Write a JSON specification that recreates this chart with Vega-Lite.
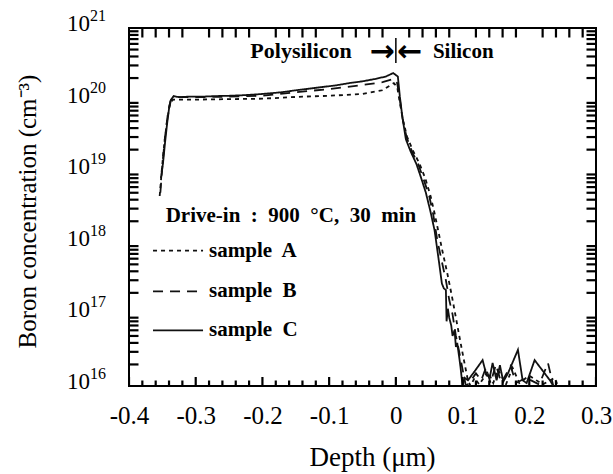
{
  "$schema": "https://vega.github.io/schema/vega-lite/v6.json",
  "autosize": {"type": "none"},
  "padding": {"left": 129, "top": 28, "right": 17, "bottom": 88},
  "width": 467,
  "height": 358,
  "background": "white",
  "config": {"view": {"stroke": "#000", "strokeWidth": 2}},
  "datasets": {
    "curves": [
      {"series": "C", "depth": -0.352, "conc": 8e18},
      {"series": "C", "depth": -0.349, "conc": 1.3e19},
      {"series": "C", "depth": -0.346, "conc": 2.5e19},
      {"series": "C", "depth": -0.343, "conc": 4.5e19},
      {"series": "C", "depth": -0.34, "conc": 7.5e19},
      {"series": "C", "depth": -0.337, "conc": 1.0e20},
      {"series": "C", "depth": -0.333, "conc": 1.12e20},
      {"series": "C", "depth": -0.325, "conc": 1.08e20},
      {"series": "C", "depth": -0.31, "conc": 1.1e20},
      {"series": "C", "depth": -0.29, "conc": 1.1e20},
      {"series": "C", "depth": -0.27, "conc": 1.12e20},
      {"series": "C", "depth": -0.25, "conc": 1.13e20},
      {"series": "C", "depth": -0.23, "conc": 1.15e20},
      {"series": "C", "depth": -0.21, "conc": 1.18e20},
      {"series": "C", "depth": -0.19, "conc": 1.22e20},
      {"series": "C", "depth": -0.17, "conc": 1.27e20},
      {"series": "C", "depth": -0.15, "conc": 1.35e20},
      {"series": "C", "depth": -0.13, "conc": 1.42e20},
      {"series": "C", "depth": -0.11, "conc": 1.5e20},
      {"series": "C", "depth": -0.09, "conc": 1.58e20},
      {"series": "C", "depth": -0.07, "conc": 1.7e20},
      {"series": "C", "depth": -0.05, "conc": 1.8e20},
      {"series": "C", "depth": -0.03, "conc": 1.95e20},
      {"series": "C", "depth": -0.015, "conc": 2.1e20},
      {"series": "C", "depth": -0.004, "conc": 2.35e20},
      {"series": "C", "depth": 0.003, "conc": 2.1e20},
      {"series": "C", "depth": 0.006, "conc": 1.1e20},
      {"series": "C", "depth": 0.01, "conc": 5.5e19},
      {"series": "C", "depth": 0.015, "conc": 2.8e19},
      {"series": "C", "depth": 0.022, "conc": 1.9e19},
      {"series": "C", "depth": 0.031, "conc": 1.25e19},
      {"series": "C", "depth": 0.038, "conc": 8e18},
      {"series": "C", "depth": 0.045, "conc": 5e18},
      {"series": "C", "depth": 0.052, "conc": 2.7e18},
      {"series": "C", "depth": 0.058, "conc": 1.5e18},
      {"series": "C", "depth": 0.064, "conc": 6e17},
      {"series": "C", "depth": 0.069, "conc": 2.7e17},
      {"series": "C", "depth": 0.072, "conc": 2.3e17},
      {"series": "C", "depth": 0.075, "conc": 2.2e17},
      {"series": "C", "depth": 0.076, "conc": 8e16},
      {"series": "C", "depth": 0.078, "conc": 1.2e17},
      {"series": "C", "depth": 0.08, "conc": 9e16},
      {"series": "C", "depth": 0.083, "conc": 7e16},
      {"series": "C", "depth": 0.085, "conc": 5e16},
      {"series": "C", "depth": 0.088, "conc": 6e16},
      {"series": "C", "depth": 0.09, "conc": 3.5e16},
      {"series": "C", "depth": 0.092, "conc": 4e16},
      {"series": "C", "depth": 0.095, "conc": 2.5e16},
      {"series": "C", "depth": 0.097, "conc": 1.8e16},
      {"series": "C", "depth": 0.1, "conc": 1e16},
      {"series": "C", "depth": 0.103, "conc": 1.3e16},
      {"series": "C", "depth": 0.108, "conc": 1.2e16},
      {"series": "C", "depth": 0.118, "conc": 1.6e16},
      {"series": "C", "depth": 0.13, "conc": 2.3e16},
      {"series": "C", "depth": 0.136, "conc": 1.4e16},
      {"series": "C", "depth": 0.141, "conc": 1.35e16},
      {"series": "C", "depth": 0.145, "conc": 2.1e16},
      {"series": "C", "depth": 0.151, "conc": 1.2e16},
      {"series": "C", "depth": 0.156, "conc": 1.95e16},
      {"series": "C", "depth": 0.161, "conc": 1.15e16},
      {"series": "C", "depth": 0.168, "conc": 1.5e16},
      {"series": "C", "depth": 0.183, "conc": 3.2e16},
      {"series": "C", "depth": 0.19, "conc": 1.2e16},
      {"series": "C", "depth": 0.196, "conc": 1.1e16},
      {"series": "C", "depth": 0.208, "conc": 2.3e16},
      {"series": "C", "depth": 0.231, "conc": 1.2e16},
      {"series": "C", "depth": 0.236, "conc": 1.0e16},
      {"series": "B", "depth": -0.353, "conc": 5e18},
      {"series": "B", "depth": -0.35, "conc": 1.2e19},
      {"series": "B", "depth": -0.346, "conc": 3e19},
      {"series": "B", "depth": -0.342, "conc": 6e19},
      {"series": "B", "depth": -0.338, "conc": 9.5e19},
      {"series": "B", "depth": -0.333, "conc": 1.08e20},
      {"series": "B", "depth": -0.3, "conc": 1.08e20},
      {"series": "B", "depth": -0.25, "conc": 1.1e20},
      {"series": "B", "depth": -0.2, "conc": 1.13e20},
      {"series": "B", "depth": -0.15, "conc": 1.27e20},
      {"series": "B", "depth": -0.1, "conc": 1.4e20},
      {"series": "B", "depth": -0.05, "conc": 1.6e20},
      {"series": "B", "depth": -0.02, "conc": 1.75e20},
      {"series": "B", "depth": -0.003, "conc": 1.95e20},
      {"series": "B", "depth": 0.002, "conc": 1.7e20},
      {"series": "B", "depth": 0.006, "conc": 1.0e20},
      {"series": "B", "depth": 0.01, "conc": 5.5e19},
      {"series": "B", "depth": 0.016, "conc": 3e19},
      {"series": "B", "depth": 0.025, "conc": 1.8e19},
      {"series": "B", "depth": 0.033, "conc": 1.3e19},
      {"series": "B", "depth": 0.042, "conc": 7.5e18},
      {"series": "B", "depth": 0.05, "conc": 4.5e18},
      {"series": "B", "depth": 0.056, "conc": 2.5e18},
      {"series": "B", "depth": 0.062, "conc": 1.1e18},
      {"series": "B", "depth": 0.068, "conc": 6e17},
      {"series": "B", "depth": 0.075, "conc": 3e17},
      {"series": "B", "depth": 0.08, "conc": 1.6e17},
      {"series": "B", "depth": 0.085, "conc": 1e17},
      {"series": "B", "depth": 0.09, "conc": 5e16},
      {"series": "B", "depth": 0.095, "conc": 3e16},
      {"series": "B", "depth": 0.1, "conc": 1.7e16},
      {"series": "B", "depth": 0.105, "conc": 1e16},
      {"series": "B", "depth": 0.11, "conc": 1.1e16},
      {"series": "B", "depth": 0.12, "conc": 1.5e16},
      {"series": "B", "depth": 0.128, "conc": 1.2e16},
      {"series": "B", "depth": 0.135, "conc": 1.8e16},
      {"series": "B", "depth": 0.142, "conc": 1.1e16},
      {"series": "B", "depth": 0.15, "conc": 2e16},
      {"series": "B", "depth": 0.158, "conc": 1.1e16},
      {"series": "B", "depth": 0.172, "conc": 1.9e16},
      {"series": "B", "depth": 0.18, "conc": 1.1e16},
      {"series": "B", "depth": 0.195, "conc": 1.3e16},
      {"series": "B", "depth": 0.215, "conc": 1.05e16},
      {"series": "B", "depth": 0.228, "conc": 2.1e16},
      {"series": "B", "depth": 0.236, "conc": 1.0e16},
      {"series": "A", "depth": -0.354, "conc": 4.5e18},
      {"series": "A", "depth": -0.351, "conc": 1e19},
      {"series": "A", "depth": -0.347, "conc": 2.5e19},
      {"series": "A", "depth": -0.343, "conc": 5e19},
      {"series": "A", "depth": -0.339, "conc": 8.5e19},
      {"series": "A", "depth": -0.334, "conc": 1.0e20},
      {"series": "A", "depth": -0.3, "conc": 1.0e20},
      {"series": "A", "depth": -0.2, "conc": 1.03e20},
      {"series": "A", "depth": -0.14, "conc": 1.1e20},
      {"series": "A", "depth": -0.1, "conc": 1.13e20},
      {"series": "A", "depth": -0.05, "conc": 1.2e20},
      {"series": "A", "depth": -0.02, "conc": 1.35e20},
      {"series": "A", "depth": -0.003, "conc": 1.7e20},
      {"series": "A", "depth": 0.002, "conc": 1.5e20},
      {"series": "A", "depth": 0.006, "conc": 9e19},
      {"series": "A", "depth": 0.011, "conc": 5e19},
      {"series": "A", "depth": 0.017, "conc": 3e19},
      {"series": "A", "depth": 0.026, "conc": 1.9e19},
      {"series": "A", "depth": 0.035, "conc": 1.3e19},
      {"series": "A", "depth": 0.044, "conc": 8e18},
      {"series": "A", "depth": 0.052, "conc": 4.5e18},
      {"series": "A", "depth": 0.058, "conc": 2.6e18},
      {"series": "A", "depth": 0.064, "conc": 1.4e18},
      {"series": "A", "depth": 0.07, "conc": 7.5e17},
      {"series": "A", "depth": 0.077, "conc": 3.8e17},
      {"series": "A", "depth": 0.084, "conc": 1.8e17},
      {"series": "A", "depth": 0.09, "conc": 9e16},
      {"series": "A", "depth": 0.096, "conc": 4.5e16},
      {"series": "A", "depth": 0.102, "conc": 2.3e16},
      {"series": "A", "depth": 0.108, "conc": 1.2e16},
      {"series": "A", "depth": 0.112, "conc": 1e16},
      {"series": "A", "depth": 0.118, "conc": 1.3e16},
      {"series": "A", "depth": 0.125, "conc": 1.05e16},
      {"series": "A", "depth": 0.138, "conc": 1.6e16},
      {"series": "A", "depth": 0.146, "conc": 1.1e16},
      {"series": "A", "depth": 0.153, "conc": 1.7e16},
      {"series": "A", "depth": 0.165, "conc": 1.05e16},
      {"series": "A", "depth": 0.175, "conc": 1.8e16},
      {"series": "A", "depth": 0.185, "conc": 1.1e16},
      {"series": "A", "depth": 0.2, "conc": 1.4e16},
      {"series": "A", "depth": 0.22, "conc": 1.05e16},
      {"series": "A", "depth": 0.238, "conc": 1.3e16},
      {"series": "A", "depth": 0.243, "conc": 1e16}
    ],
    "legendLines": [
      {"series": "A", "depth": -0.364, "conc": 7.8e17},
      {"series": "A", "depth": -0.289, "conc": 7.8e17},
      {"series": "B", "depth": -0.364, "conc": 2.1e17},
      {"series": "B", "depth": -0.289, "conc": 2.1e17},
      {"series": "C", "depth": -0.364, "conc": 6.0e16},
      {"series": "C", "depth": -0.289, "conc": 6.0e16}
    ],
    "legendText": [
      {"label": "sample\u00a0 A", "depth": -0.28, "conc": 7.8e17},
      {"label": "sample\u00a0 B", "depth": -0.28, "conc": 2.1e17},
      {"label": "sample\u00a0 C", "depth": -0.28, "conc": 6.0e16}
    ],
    "notesLeft": [
      {"label": "Silicon", "depth": 0.0555, "conc": 3.81e20},
      {"label": "Drive-in\u00a0 :\u00a0 900\u00a0 °C,\u00a0 30\u00a0 min", "depth": -0.345, "conc": 1.95e18}
    ],
    "notesRight": [
      {"label": "Polysilicon", "depth": -0.066, "conc": 3.81e20}
    ],
    "arrowRight": [{"label": "→", "depth": -0.002, "conc": 4.62e20}],
    "arrowLeft": [{"label": "←", "depth": 0.002, "conc": 4.62e20}],
    "divider": [{"depth": 0, "top": 7.24e20, "bottom": 3.24e20}],
    "decades": [
      {"exp": "16", "conc": 1e16},
      {"exp": "17", "conc": 1e17},
      {"exp": "18", "conc": 1e18},
      {"exp": "19", "conc": 1e19},
      {"exp": "20", "conc": 1e20},
      {"exp": "21", "conc": 1e21}
    ],
    "xticks": [
      {"pos": -0.4, "kind": "major"}, {"pos": -0.38, "kind": "minor"}, {"pos": -0.36, "kind": "minor"}, {"pos": -0.34, "kind": "minor"}, {"pos": -0.32, "kind": "minor"},
      {"pos": -0.3, "kind": "major"}, {"pos": -0.28, "kind": "minor"}, {"pos": -0.26, "kind": "minor"}, {"pos": -0.24, "kind": "minor"}, {"pos": -0.22, "kind": "minor"},
      {"pos": -0.2, "kind": "major"}, {"pos": -0.18, "kind": "minor"}, {"pos": -0.16, "kind": "minor"}, {"pos": -0.14, "kind": "minor"}, {"pos": -0.12, "kind": "minor"},
      {"pos": -0.1, "kind": "major"}, {"pos": -0.08, "kind": "minor"}, {"pos": -0.06, "kind": "minor"}, {"pos": -0.04, "kind": "minor"}, {"pos": -0.02, "kind": "minor"},
      {"pos": 0, "kind": "major"}, {"pos": 0.02, "kind": "minor"}, {"pos": 0.04, "kind": "minor"}, {"pos": 0.06, "kind": "minor"}, {"pos": 0.08, "kind": "minor"},
      {"pos": 0.1, "kind": "major"}, {"pos": 0.12, "kind": "minor"}, {"pos": 0.14, "kind": "minor"}, {"pos": 0.16, "kind": "minor"}, {"pos": 0.18, "kind": "minor"},
      {"pos": 0.2, "kind": "major"}, {"pos": 0.22, "kind": "minor"}, {"pos": 0.24, "kind": "minor"}, {"pos": 0.26, "kind": "minor"}, {"pos": 0.28, "kind": "minor"},
      {"pos": 0.3, "kind": "major"}
    ],
    "yticks": [
      {"pos": 1e16, "kind": "major"}, {"pos": 2e16, "kind": "minor"}, {"pos": 3e16, "kind": "minor"}, {"pos": 4e16, "kind": "minor"}, {"pos": 5e16, "kind": "minor"}, {"pos": 6e16, "kind": "minor"}, {"pos": 7e16, "kind": "minor"}, {"pos": 8e16, "kind": "minor"}, {"pos": 9e16, "kind": "minor"},
      {"pos": 1e17, "kind": "major"}, {"pos": 2e17, "kind": "minor"}, {"pos": 3e17, "kind": "minor"}, {"pos": 4e17, "kind": "minor"}, {"pos": 5e17, "kind": "minor"}, {"pos": 6e17, "kind": "minor"}, {"pos": 7e17, "kind": "minor"}, {"pos": 8e17, "kind": "minor"}, {"pos": 9e17, "kind": "minor"},
      {"pos": 1e18, "kind": "major"}, {"pos": 2e18, "kind": "minor"}, {"pos": 3e18, "kind": "minor"}, {"pos": 4e18, "kind": "minor"}, {"pos": 5e18, "kind": "minor"}, {"pos": 6e18, "kind": "minor"}, {"pos": 7e18, "kind": "minor"}, {"pos": 8e18, "kind": "minor"}, {"pos": 9e18, "kind": "minor"},
      {"pos": 1e19, "kind": "major"}, {"pos": 2e19, "kind": "minor"}, {"pos": 3e19, "kind": "minor"}, {"pos": 4e19, "kind": "minor"}, {"pos": 5e19, "kind": "minor"}, {"pos": 6e19, "kind": "minor"}, {"pos": 7e19, "kind": "minor"}, {"pos": 8e19, "kind": "minor"}, {"pos": 9e19, "kind": "minor"},
      {"pos": 1e20, "kind": "major"}, {"pos": 2e20, "kind": "minor"}, {"pos": 3e20, "kind": "minor"}, {"pos": 4e20, "kind": "minor"}, {"pos": 5e20, "kind": "minor"}, {"pos": 6e20, "kind": "minor"}, {"pos": 7e20, "kind": "minor"}, {"pos": 8e20, "kind": "minor"}, {"pos": 9e20, "kind": "minor"},
      {"pos": 1e21, "kind": "major"}
    ]
  },
  "layer": [
    {
      "data": {"name": "curves"},
      "mark": {"type": "line", "clip": true, "strokeWidth": 1.8, "color": "#111"},
      "encoding": {
        "x": {
          "field": "depth", "type": "quantitative",
          "scale": {"domain": [-0.4, 0.3], "nice": false, "zero": false},
          "axis": {
            "orient": "bottom",
            "values": [-0.4, -0.3, -0.2, -0.1, 0, 0.1, 0.2, 0.3],
            "labelExpr": "abs(datum.value) < 0.001 ? '0' : replace(format(datum.value, '.1f'), '−', '-')",
            "ticks": false, "domain": false,
            "labelFont": "Liberation Serif", "labelFontSize": 25, "labelColor": "#000",
            "labelPadding": 17, "labelOverlap": false, "labelBound": false, "labelFlush": false,
            "grid": false,
            "title": "Depth (μm)", "titleFont": "Liberation Serif", "titleFontSize": 27,
            "titleFontWeight": "normal", "titleColor": "#000",
            "titleX": 243, "titleY": 79, "titleBaseline": "alphabetic", "titleAlign": "center"
          }
        },
        "y": {
          "field": "conc", "type": "quantitative",
          "scale": {"type": "log", "domain": [1e16, 1e21], "nice": false},
          "axis": {
            "orient": "left",
            "values": [1e16, 1e21],
            "labels": false, "ticks": false, "domain": false,
            "grid": false,
            "title": "Boron concentration (cm⁻³)", "titleFont": "Liberation Serif", "titleFontSize": 25,
            "titleFontWeight": "normal", "titleColor": "#000",
            "titleX": -102, "titleY": 183, "titleBaseline": "middle", "titleAlign": "center", "titleAngle": -90
          }
        },
        "strokeDash": {
          "field": "series", "type": "nominal",
          "scale": {"domain": ["A", "B", "C"], "range": [[4, 4], [10, 7], [1, 0]]},
          "legend": null
        }
      }
    },
    {
      "data": {"name": "legendLines"},
      "mark": {"type": "line", "strokeWidth": 1.8, "color": "#111"},
      "encoding": {
        "x": {"field": "depth", "type": "quantitative"},
        "y": {"field": "conc", "type": "quantitative"},
        "strokeDash": {"field": "series", "type": "nominal", "legend": null}
      }
    },
    {
      "data": {"name": "xticks"},
      "mark": {"type": "tick", "orient": "vertical", "clip": true, "thickness": 2.2, "color": "#000", "opacity": 1, "filled": true},
      "encoding": {
        "x": {"field": "pos", "type": "quantitative"},
        "y": {"datum": 1e16, "type": "quantitative"},
        "size": {"field": "kind", "type": "nominal", "scale": {"type": "ordinal", "domain": ["major", "minor"], "range": [18, 11]}, "legend": null}
      }
    },
    {
      "data": {"name": "xticks"},
      "mark": {"type": "tick", "orient": "vertical", "clip": true, "thickness": 2.2, "color": "#000", "opacity": 1, "filled": true},
      "encoding": {
        "x": {"field": "pos", "type": "quantitative"},
        "y": {"datum": 1e21, "type": "quantitative"},
        "size": {"field": "kind", "type": "nominal", "legend": null}
      }
    },
    {
      "data": {"name": "yticks"},
      "mark": {"type": "tick", "orient": "horizontal", "clip": true, "thickness": 2.2, "color": "#000", "opacity": 1, "filled": true},
      "encoding": {
        "y": {"field": "pos", "type": "quantitative"},
        "x": {"datum": -0.4, "type": "quantitative"},
        "size": {"field": "kind", "type": "nominal", "legend": null}
      }
    },
    {
      "data": {"name": "yticks"},
      "mark": {"type": "tick", "orient": "horizontal", "clip": true, "thickness": 2.2, "color": "#000", "opacity": 1, "filled": true},
      "encoding": {
        "y": {"field": "pos", "type": "quantitative"},
        "x": {"datum": 0.3, "type": "quantitative"},
        "size": {"field": "kind", "type": "nominal", "legend": null}
      }
    },
    {
      "data": {"name": "legendText"},
      "mark": {"type": "text", "align": "left", "baseline": "middle", "font": "Liberation Serif", "fontWeight": "bold", "fontSize": 21, "color": "#000"},
      "encoding": {
        "x": {"field": "depth", "type": "quantitative"},
        "y": {"field": "conc", "type": "quantitative"},
        "text": {"field": "label"}
      }
    },
    {
      "data": {"name": "notesLeft"},
      "mark": {"type": "text", "align": "left", "baseline": "alphabetic", "font": "Liberation Serif", "fontWeight": "bold", "fontSize": 21, "color": "#000"},
      "encoding": {
        "x": {"field": "depth", "type": "quantitative"},
        "y": {"field": "conc", "type": "quantitative"},
        "text": {"field": "label"}
      }
    },
    {
      "data": {"name": "notesRight"},
      "mark": {"type": "text", "align": "right", "baseline": "alphabetic", "font": "Liberation Serif", "fontWeight": "bold", "fontSize": 22, "color": "#000"},
      "encoding": {
        "x": {"field": "depth", "type": "quantitative"},
        "y": {"field": "conc", "type": "quantitative"},
        "text": {"field": "label"}
      }
    },
    {
      "data": {"name": "arrowRight"},
      "mark": {"type": "text", "align": "right", "baseline": "middle", "font": "DejaVu Sans", "fontWeight": "bold", "fontSize": 30, "color": "#000"},
      "encoding": {
        "x": {"field": "depth", "type": "quantitative"},
        "y": {"field": "conc", "type": "quantitative"},
        "text": {"field": "label"}
      }
    },
    {
      "data": {"name": "arrowLeft"},
      "mark": {"type": "text", "align": "left", "baseline": "middle", "font": "DejaVu Sans", "fontWeight": "bold", "fontSize": 30, "color": "#000"},
      "encoding": {
        "x": {"field": "depth", "type": "quantitative"},
        "y": {"field": "conc", "type": "quantitative"},
        "text": {"field": "label"}
      }
    },
    {
      "data": {"name": "divider"},
      "mark": {"type": "rule", "strokeWidth": 1.5, "color": "#000"},
      "encoding": {
        "x": {"field": "depth", "type": "quantitative"},
        "y": {"field": "top", "type": "quantitative"},
        "y2": {"field": "bottom"}
      }
    },
    {
      "data": {"name": "decades"},
      "mark": {"type": "text", "align": "right", "baseline": "alphabetic", "dx": -39, "dy": 3, "font": "Liberation Serif", "fontSize": 23, "color": "#000"},
      "encoding": {
        "x": {"datum": -0.4, "type": "quantitative"},
        "y": {"field": "conc", "type": "quantitative"},
        "text": {"value": "10"}
      }
    },
    {
      "data": {"name": "decades"},
      "mark": {"type": "text", "align": "left", "baseline": "alphabetic", "dx": -39, "dy": -7, "font": "Liberation Serif", "fontSize": 16, "color": "#000"},
      "encoding": {
        "x": {"datum": -0.4, "type": "quantitative"},
        "y": {"field": "conc", "type": "quantitative"},
        "text": {"field": "exp"}
      }
    }
  ]
}
